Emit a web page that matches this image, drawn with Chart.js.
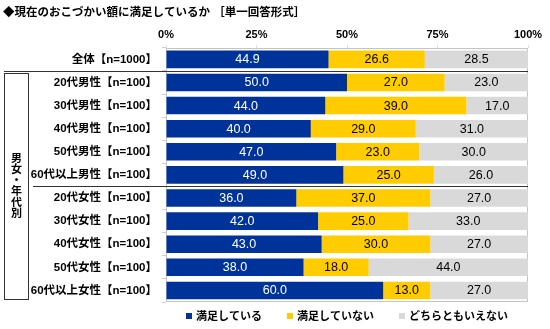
<!DOCTYPE html>
<html lang="ja">
<head>
    <meta charset="UTF-8">
    <title>現在のおこづかい額に満足しているか</title>
    <script src="https://cdn.jsdelivr.net/npm/chart.js"></script>
    <style>
        body { margin: 0; background: #fff; }
        .chart-container { position: relative; width: 550px; height: 329px; }
    </style>
</head>
<body>
    <div class="chart-container">
        <canvas id="chart"></canvas>
    </div>
    <script>
        const categories = [
            '全体【n=1000】',
            '20代男性【n=100】', '30代男性【n=100】', '40代男性【n=100】', '50代男性【n=100】', '60代以上男性【n=100】',
            '20代女性【n=100】', '30代女性【n=100】', '40代女性【n=100】', '50代女性【n=100】', '60代以上女性【n=100】'
        ];
        const satisfied    = [44.9, 50.0, 44.0, 40.0, 47.0, 49.0, 36.0, 42.0, 43.0, 38.0, 60.0];
        const notSatisfied = [26.6, 27.0, 39.0, 29.0, 23.0, 25.0, 37.0, 25.0, 30.0, 18.0, 13.0];
        const neither      = [28.5, 23.0, 17.0, 31.0, 30.0, 26.0, 27.0, 33.0, 27.0, 44.0, 27.0];
        const seriesNames  = ['満足している', '満足していない', 'どちらともいえない'];
        const xTicks       = [0, 25, 50, 75, 100];
        const groupLabel   = '男女・年代別';

        const FONT = "'Liberation Sans', 'Noto Sans CJK JP', sans-serif";
        const colors = ['#003399', '#FFCC00', '#D9D9D9'];
        const labelColors = ['#ffffff', '#000000', '#000000'];

        // frame around the plot area
        const frame = {
            id: 'frame',
            beforeDatasetsDraw(chart) {
                const { ctx, chartArea: a } = chart;
                ctx.save();
                ctx.strokeStyle = '#c4c4c4';
                ctx.lineWidth = 1;
                ctx.strokeRect(Math.round(a.left) + 0.5, Math.round(a.top) + 0.5,
                    Math.round(a.right - a.left) - 1, Math.round(a.bottom - a.top) - 1);
                ctx.restore();
            }
        };

        // values inside each segment
        const barLabels = {
            id: 'barLabels',
            afterDatasetsDraw(chart) {
                const { ctx } = chart;
                ctx.save();
                ctx.font = '12.5px ' + FONT;
                ctx.textAlign = 'center';
                ctx.textBaseline = 'middle';
                chart.data.datasets.forEach((ds, i) => {
                    chart.getDatasetMeta(i).data.forEach((bar, j) => {
                        ctx.fillStyle = labelColors[i];
                        ctx.fillText(ds.data[j].toFixed(1), (bar.x + bar.base) / 2, bar.y + 0.5);
                    });
                });
                ctx.restore();
            }
        };

        // separator lines, group box and legend
        const extras = {
            id: 'extras',
            afterDraw(chart) {
                const { ctx, chartArea: a } = chart;
                const y = chart.scales.y;
                const mid = (i) => Math.round((y.getPixelForValue(i) + y.getPixelForValue(i + 1)) / 2) + 0.5;
                const y1 = mid(0), y2 = mid(5);
                ctx.save();
                ctx.strokeStyle = '#333';
                ctx.lineWidth = 1;
                ctx.beginPath();
                ctx.moveTo(4, y1); ctx.lineTo(a.right, y1);
                ctx.moveTo(33, y2); ctx.lineTo(a.right, y2);
                ctx.stroke();

                const boxTop = y1 + 2, boxBottom = Math.round(a.bottom) - 2.5;
                ctx.strokeRect(4.5, boxTop, 24, boxBottom - boxTop);

                ctx.fillStyle = '#000';
                ctx.font = 'bold 11px ' + FONT;
                ctx.textAlign = 'center';
                ctx.textBaseline = 'middle';
                const chars = [...groupLabel];
                const step = 11;
                const cy = (boxTop + boxBottom) / 2;
                chars.forEach((c, i) => {
                    ctx.fillText(c, 16.5, cy + (i - (chars.length - 1) / 2) * step);
                });

                // legend
                ctx.font = 'bold 11px ' + FONT;
                ctx.textAlign = 'left';
                const box = 6, gap = 4, spacing = 25;
                const widths = seriesNames.map(n => box + gap + ctx.measureText(n).width);
                const total = widths.reduce((s, w) => s + w, 0) + spacing * (widths.length - 1);
                let x = (a.left + a.right) / 2 - total / 2;
                const ly = 316;
                seriesNames.forEach((n, i) => {
                    ctx.fillStyle = colors[i];
                    ctx.fillRect(Math.round(x), ly - 3, box, box);
                    ctx.fillStyle = '#000';
                    ctx.fillText(n, x + box + gap, ly + 0.5);
                    x += widths[i] + spacing;
                });
                ctx.restore();
            }
        };

        const ctx = document.getElementById('chart').getContext('2d');
        new Chart(ctx, {
            type: 'bar',
            data: {
                labels: categories,
                datasets: [satisfied, notSatisfied, neither].map((values, i) => ({
                    label: seriesNames[i],
                    data: values,
                    backgroundColor: colors[i],
                    borderWidth: 0,
                    barPercentage: 0.76,
                    categoryPercentage: 1
                }))
            },
            options: {
                indexAxis: 'y',
                responsive: true,
                maintainAspectRatio: false,
                animation: false,
                layout: { padding: { left: 3, right: 22, top: 0, bottom: 27 } },
                scales: {
                    x: {
                        position: 'top',
                        stacked: true,
                        min: 0,
                        max: 100,
                        afterBuildTicks(scale) {
                            scale.ticks = xTicks.map(v => ({ value: v }));
                        },
                        afterFit(scale) { scale.height = 28; },
                        grid: { drawOnChartArea: false, drawTicks: true, tickLength: 3, color: '#e0e0e0' },
                        border: { display: false },
                        ticks: {
                            padding: 3,
                            color: '#000',
                            font: { family: FONT, size: 11, weight: 'bold' },
                            callback: (v) => v + '%'
                        }
                    },
                    y: {
                        stacked: true,
                        afterFit(scale) { scale.width = 163; },
                        grid: { drawOnChartArea: false, drawTicks: true, tickLength: 4, color: '#d0d0d0', offset: true },
                        border: { display: false },
                        ticks: {
                            padding: 5,
                            color: '#000',
                            font: { family: FONT, size: 11.5, weight: 'bold' }
                        }
                    }
                },
                plugins: {
                    legend: { display: false },
                    tooltip: { enabled: false },
                    title: {
                        display: true,
                        align: 'start',
                        text: '◆現在のおこづかい額に満足しているか ［単一回答形式］',
                        color: '#000',
                        font: { family: FONT, size: 11.5, weight: 'bold' },
                        padding: { top: 6, bottom: 0 }
                    }
                }
            },
            plugins: [frame, barLabels, extras]
        });
    </script>
</body>
</html>
